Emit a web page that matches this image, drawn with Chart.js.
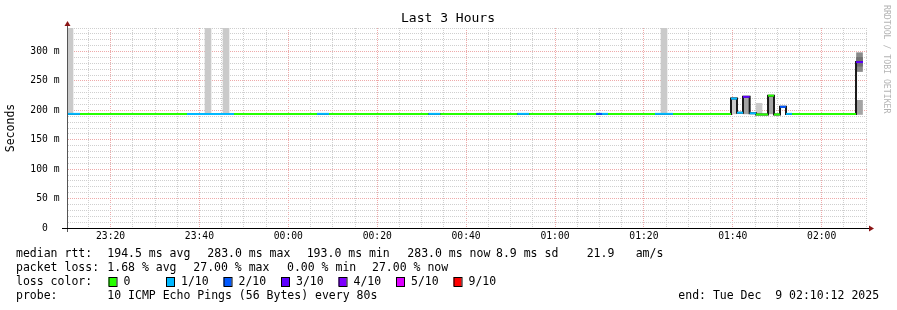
<!DOCTYPE html>
<html>
<head>
<meta charset="utf-8">
<script src="https://cdn.jsdelivr.net/npm/chart.js@4/dist/chart.umd.min.js"></script>
<style>
  html, body { margin: 0; padding: 0; background: #fff; }
  #wrap { width: 897px; height: 310px; }
</style>
</head>
<body>
<div id="wrap"><canvas id="c" width="897" height="310"></canvas></div>
<script>
// time is in minutes from 00:00, negative = before midnight
const tStart = -49.8   // 23:10:12
const tEnd = 130.2     // 02:10:12

// median rtt steps: start time, value (ms), pings lost out of 10
const medStart = [-49.80, -46.88, -22.80, -12.23, 6.45, 9.15, 31.54, 34.20, 51.54, 54.20,
                  69.23, 70.58, 71.93, 82.50, 86.55, 99.60, 100.95, 102.30, 103.80, 105.23,
                  107.93, 109.28, 110.63, 111.98, 113.33, 127.73]
const medValue = [194, 194, 194, 194, 194, 194, 194, 194, 194, 194,
                  194, 194, 194, 194, 194, 220, 196, 223, 195, 193,
                  225, 193, 206, 194, 194, 282]
const medLoss  = [1, 0, 1, 0, 1, 0, 1, 0, 1, 0,
                  2, 1, 0, 1, 0, 1, 1, 3, 1, 0,
                  0, 0, 2, 1, 0, 3]
const medEnd = 129.3

// smoke: time span, low / high (ms), shade (0 light .. 3 dark)
const smokeStart = [-49.80, -18.75, -14.70, 83.85, 99.60, 102.30, 105.23, 107.93, 127.73, 127.73, 127.73]
const smokeEnd   = [-48.45, -17.40, -13.35, 85.20, 100.95, 103.65, 106.58, 109.28, 129.30, 129.30, 129.30]
const smokeLow   = [195, 195, 195, 195, 194, 194, 194, 194, 193, 266, 275]
const smokeHigh  = [340, 340, 340, 340, 222, 223, 212, 225, 217, 298, 290]
const smokeShade = [0, 0, 0, 0, 0, 1, 0, 1, 1, 2, 3]

// legend
const lossLabels = ['0', '1/10', '2/10', '3/10', '4/10', '5/10', '9/10']
const lossColors = ['#26ff00', '#00b8ff', '#0059ff', '#5e00ff', '#7e00ff', '#dd00ff', '#ff0000']
const rttStats  = ['median rtt:', '194.5 ms avg', '283.0 ms max', '193.0 ms min', '283.0 ms now', '8.9 ms sd', '21.9', 'am/s']
const lossStats = ['packet loss:', '1.68 % avg', '27.00 % max', '0.00 % min', '27.00 % now']
const probeText = ['probe:', '10 ICMP Echo Pings (56 Bytes) every 80s', 'end: Tue Dec  9 02:10:12 2025']

const shades = ['#cacaca', '#a4a4a4', '#8a8a8a', '#727272']
const MONO = "'DejaVu Sans Mono', monospace"

function lossIdx(n) {
  if (n >= 9) return 6
  if (n >= 5) return 5
  return n
}
function clock(v) {
  const m = ((Math.round(v) % 1440) + 1440) % 1440
  return String(Math.floor(m / 60)).padStart(2, '0') + ':' + String(m % 60).padStart(2, '0')
}

// black step line (shows the jumps)
const stepData = medStart.map((t, i) => ({ x: t, y: medValue[i] }))
stepData.push({ x: medEnd, y: medValue[medValue.length - 1] })

// coloured flat pieces
const segData = []
const segColor = []
medStart.forEach((t, i) => {
  const end = i < medStart.length - 1 ? medStart[i + 1] : medEnd
  segData.push({ x: t, y: medValue[i] }, { x: end, y: medValue[i] }, { x: end, y: null })
  segColor.push(lossColors[lossIdx(medLoss[i])])
})

const smokeData = smokeStart.map((t, i) => ({ x: (t + smokeEnd[i]) / 2, y: [smokeLow[i], smokeHigh[i]] }))

const decor = {
  id: 'decor',
  afterDraw(chart) {
    const c = chart.ctx, a = chart.chartArea
    c.save()
    // axis extensions
    c.strokeStyle = '#555'
    c.lineWidth = 1
    c.beginPath()
    c.moveTo(a.left + 0.5, a.bottom + 4); c.lineTo(a.left + 0.5, a.top - 4)
    c.stroke()
    c.strokeStyle = '#000'
    c.beginPath()
    c.moveTo(a.left - 5, a.bottom + 0.5); c.lineTo(a.right + 3, a.bottom + 0.5)
    c.stroke()
    // arrows
    c.fillStyle = '#8b1515'
    c.beginPath()
    c.moveTo(a.left - 2.5, a.top - 2); c.lineTo(a.left + 3.5, a.top - 2); c.lineTo(a.left + 0.5, a.top - 7)
    c.closePath(); c.fill()
    c.beginPath()
    c.moveTo(a.right + 2, a.bottom - 2.5); c.lineTo(a.right + 2, a.bottom + 3.5); c.lineTo(a.right + 7, a.bottom + 0.5)
    c.closePath(); c.fill()

    // title
    c.fillStyle = '#000'
    c.font = '13px ' + MONO
    c.textAlign = 'center'
    c.textBaseline = 'middle'
    c.fillText('Last 3 Hours', 448, 19)

    // vertical credit
    c.save()
    c.translate(886, 5)
    c.rotate(Math.PI / 2)
    c.font = '8.2px ' + MONO
    c.fillStyle = '#b4b4b4'
    c.textAlign = 'left'
    c.fillText('RRDTOOL / TOBI OETIKER', 0, 0)
    c.restore()

    // legend lines
    c.font = '11.5px ' + MONO
    c.textAlign = 'left'
    c.fillStyle = '#000'
    const rttX = [16, 107.3, 207.3, 306.7, 407.3, 496, 586.7, 635.7]
    rttStats.forEach((s, i) => c.fillText(s, rttX[i], 254.5))
    const lossX = [16, 107.3, 193.3, 287, 372]
    lossStats.forEach((s, i) => c.fillText(s, lossX[i], 268.5))
    c.fillText('loss color:', 16, 282)
    lossLabels.forEach((s, i) => {
      const bx = 108.5 + i * 57.5
      c.fillStyle = lossColors[i]
      c.fillRect(bx, 277, 8, 9)
      c.strokeStyle = '#000'
      c.strokeRect(bx + 0.5, 277.5, 8, 9)
      c.fillStyle = '#000'
      c.fillText(s, bx + 15, 282)
    })
    c.fillText(probeText[0], 16, 296.5)
    c.fillText(probeText[1], 107.3, 296.5)
    c.fillText(probeText[2], 678.3, 296.5)
    c.restore()
  }
}

new Chart(
  document.getElementById('c'),
  {
    type: 'line',
    data: {
      datasets: [
        {
          type: 'bar',
          data: smokeData,
          backgroundColor: smokeShade.map(s => shades[s]),
          borderWidth: 0,
          barThickness: 6,
          grouped: false,
          order: 3
        },
        {
          data: stepData,
          stepped: true,
          borderColor: '#1a1a1a',
          borderWidth: 2,
          pointRadius: 0,
          order: 2
        },
        {
          data: segData,
          borderWidth: 2,
          borderColor: '#26ff00',
          borderCapStyle: 'butt',
          pointRadius: 0,
          spanGaps: false,
          segment: {
            borderColor: ctx => segColor[Math.floor(ctx.p0DataIndex / 3)]
          },
          order: 1
        }
      ]
    },
    options: {
      responsive: false,
      animation: false,
      layout: { padding: { left: 0, right: 30, top: 28, bottom: 62 } },
      scales: {
        x: {
          type: 'linear',
          min: tStart,
          max: tEnd,
          offset: false,
          afterBuildTicks: s => {
            const t = []
            for (let v = -45; v <= 130; v += 5) t.push({ value: v })
            s.ticks = t
          },
          afterFit: s => { s.height = 20 },
          ticks: {
            autoSkip: false,
            maxRotation: 0,
            padding: 3,
            color: '#000',
            font: { family: MONO, size: 9.7 },
            callback: v => (v % 20 === 0 ? clock(v) : '')
          },
          grid: {
            offset: false,
            drawTicks: false,
            color: ctx => (ctx.tick && ctx.tick.value % 20 === 0 ? '#eeaaaa' : '#cfcfcf')
          },
          border: { color: '#000', dash: [1, 1] }
        },
        y: {
          min: 0,
          max: 340,
          afterFit: s => { s.width = 67 },
          ticks: {
            stepSize: 10,
            autoSkip: false,
            padding: 7.5,
            color: '#000',
            font: { family: MONO, size: 9.7 },
            callback: v => (v % 50 === 0 ? (v === 0 ? '0  ' : v + ' m') : '')
          },
          grid: {
            drawTicks: false,
            color: ctx => (ctx.tick && ctx.tick.value % 50 === 0 ? '#eeaaaa' : '#cfcfcf')
          },
          border: { color: '#555', dash: [1, 1] },
          title: {
            display: true,
            text: 'Seconds',
            color: '#000',
            font: { family: MONO, size: 11.5 }
          }
        }
      },
      plugins: {
        legend: { display: false },
        tooltip: { enabled: false }
      }
    },
    plugins: [decor]
  }
)
</script>
</body>
</html>
